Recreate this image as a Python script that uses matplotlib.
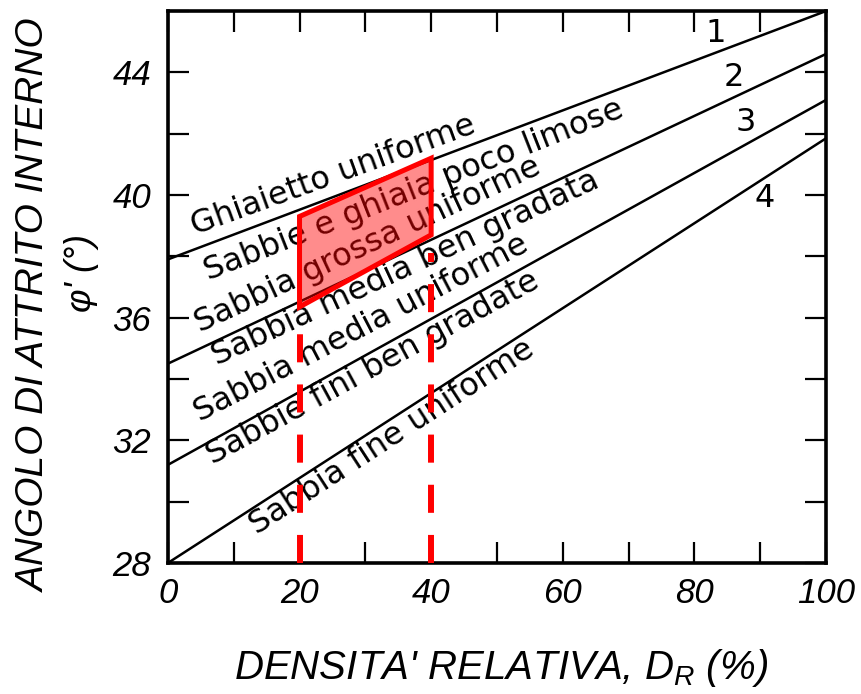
import matplotlib
matplotlib.use("Agg")
import matplotlib.pyplot as plt
from matplotlib.ticker import MultipleLocator

# Relative density (%) at the ends of each curve
dr = [0, 100]
# Friction angle phi' (deg) for curves 1-4
phi_1 = [37.9, 46.0]
phi_2 = [34.5, 44.6]
phi_3 = [31.2, 43.1]
phi_4 = [28.0, 41.85]
curve_ids = ["1", "2", "3", "4"]

# Highlighted range: relative density 20-40 %
range_dr = [20, 40]
range_phi_low = [36.35, 38.7]
range_phi_high = [39.3, 41.2]

curve_labels = [
    "Ghiaietto uniforme",
    "Sabbie e ghiaia poco limose",
    "Sabbia grossa uniforme",
    "Sabbia media ben gradata",
    "Sabbia media uniforme",
    "Sabbie fini ben gradate",
    "Sabbia fine uniforme",
]

x_ticks = [0, 20, 40, 60, 80, 100]
y_ticks = [28, 32, 36, 40, 44]

plt.rcParams["mathtext.fontset"] = "custom"
plt.rcParams["mathtext.it"] = "Liberation Sans:italic"
plt.rcParams["mathtext.rm"] = "Liberation Sans"

sans = "Liberation Sans"

fig = plt.figure(figsize=(8.61, 6.94), dpi=100)
ax = fig.add_axes([0.195, 0.1888, 0.7644, 0.7953])
ax.set_xlim(0, 100)
ax.set_ylim(28, 46)

for ys in (phi_1, phi_2, phi_3, phi_4):
    ax.plot(dr, ys, color="black", lw=1.8, solid_capstyle="butt", zorder=2)

# curve numbers
id_pos = [(83.3, 45.26), (86.0, 43.83), (87.8, 42.36), (90.7, 39.9)]
for cid, (px, py) in zip(curve_ids, id_pos):
    ax.text(px, py, cid, fontsize=23, family="DejaVu Sans",
            ha="center", va="center", zorder=3)

# labels along the curves
label_pos = [
    (4.1, 38.68, 20.0),
    (6.1, 37.22, 21.5),
    (4.9, 35.52, 25.0),
    (7.4, 34.45, 25.0),
    (4.9, 32.60, 27.5),
    (6.8, 31.20, 28.5),
    (13.5, 28.90, 33.0),
]
for txt, (px, py, ang) in zip(curve_labels, label_pos):
    ax.text(px, py, txt, fontsize=23, family="DejaVu Sans", rotation=ang,
            rotation_mode="anchor", ha="left", va="baseline", zorder=3)

# highlighted parallelogram
poly_x = [range_dr[0], range_dr[1], range_dr[1], range_dr[0]]
poly_y = [range_phi_high[0], range_phi_high[1], range_phi_low[1], range_phi_low[0]]
ax.fill(poly_x, poly_y, facecolor=(1, 0, 0, 0.45), edgecolor="none", zorder=4)
ax.fill(poly_x, poly_y, facecolor="none", edgecolor="#ff0000", lw=3.6,
        joinstyle="miter", zorder=5)

# dashed verticals down to the axis
for xv, ytop in zip(range_dr, range_phi_low):
    ax.plot([xv, xv], [28, ytop - 0.6], color="#ff0000", lw=4.3,
            linestyle=(0, (4.7, 3.7)), dash_capstyle="butt", zorder=4,
            clip_on=False)

ax.set_xticks(x_ticks)
ax.set_yticks(y_ticks)
ax.xaxis.set_minor_locator(MultipleLocator(10))
ax.yaxis.set_minor_locator(MultipleLocator(2))
ax.tick_params(which="both", direction="in", top=True, right=True,
               length=15, width=1.6, color="black")
ax.tick_params(axis="x", which="major", pad=10)
ax.tick_params(axis="y", which="major", pad=12)
for lab in ax.get_xticklabels() + ax.get_yticklabels():
    lab.set_fontsize(25)
    lab.set_family(sans)
    lab.set_style("italic")

for sp in ax.spines.values():
    sp.set_linewidth(2.6)

fig.text(0.582, 0.038, "DENSITA' RELATIVA, $D_R$ (%)", fontsize=29,
         family=sans, style="italic", ha="center", va="center")
fig.text(0.041, 0.56, "ANGOLO DI ATTRITO INTERNO", fontsize=28,
         family=sans, style="italic", rotation=90, ha="center", va="center")
fig.text(0.095, 0.606, "$\\varphi$' (°)", fontsize=26,
         family=sans, style="italic", rotation=90, ha="center", va="center")

fig.savefig("out.png", dpi=100)
